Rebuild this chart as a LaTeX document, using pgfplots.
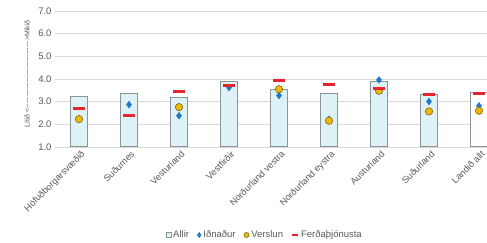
\documentclass[border=0pt]{standalone}
\usepackage{pgfplots}
\pgfplotsset{compat=1.18}
\usepackage{fontspec}
\setmainfont{Liberation Sans}
\definecolor{barfill}{HTML}{DDF2F7}
\definecolor{barline}{HTML}{8C9496}
\definecolor{diam}{HTML}{1F78C8}
\definecolor{circ}{HTML}{F2B705}
\definecolor{circline}{HTML}{7A6A1C}
\definecolor{redl}{HTML}{E3262E}
\definecolor{txt}{HTML}{595959}
\definecolor{gridc}{HTML}{D9D9D9}
\newcommand\h{-\kern0pt}
\begin{document}
\begin{tikzpicture}
\begin{axis}[
  name=ax,
  scale only axis,
  width=432pt, height=136pt,
  xmin=-0.48, xmax=8.16,
  ymin=1, ymax=7,
  ytick={1,2,...,7},
  xtick={0,...,8},
  xticklabels={Höfuðborgarsvæðið,Suðurnes,Vesturland,Vestfirðir,Norðurland vestra,Norðurland eystra,Austurland,Suðurland,Landið allt},
  xticklabel style={rotate=45, anchor=north east, font=\fontsize{9.2}{10}\selectfont, text=txt, inner sep=1pt, yshift=-2pt},
  yticklabel style={font=\fontsize{9.5}{10}\selectfont, text=txt, /pgf/number format/.cd, fixed, fixed zerofill, precision=1},
  /pgf/number format/assume math mode=true,
  major tick length=0pt,
  axis line style={draw=none},
  ymajorgrids,
  grid style={gridc, line width=0.6pt},
  ylabel={\fontsize{7}{8}\selectfont Lítið \textless\h\h\h\h\h\h\h\h\h\h\h\h\h\h\h\h\h\h\h\h\h\h\h\h\h\h\h\h\h\textgreater Mikið},
  ylabel style={at={(axis description cs:-0.0648,0.537)}, anchor=center, text=txt},
  legend style={at={(axis description cs:0.486,-0.647)}, anchor=center, draw=none, fill=none,
    font=\fontsize{9.5}{10}\selectfont, text=txt, legend columns=4,
    /tikz/every even column/.append style={column sep=6pt}},
  legend cell align=left,
]
\addplot[ybar, bar width=16.5pt, bar shift=0pt, fill=barfill, draw=barline, line width=1pt,
  legend image code/.code={\draw[fill=barfill, draw=barline, line width=0.5pt] (0pt,-2.3pt) rectangle (4.6pt,2.3pt);}]
  coordinates {(0,3.25) (1,3.34) (2,3.19) (3,3.90) (4,3.55) (5,3.35) (6,3.90) (7,3.30)};
\addlegendentry{Allir}
\addplot[ybar, bar width=16.5pt, bar shift=0pt, fill=white, draw=barline, line width=1pt, forget plot]
  coordinates {(8,3.40)};
\addplot[only marks, mark=diamond*, mark size=3.4pt, color=diam,
  legend image code/.code={\fill[diam] (0pt,0pt)--(2pt,2.6pt)--(4pt,0pt)--(2pt,-2.6pt)--cycle;}]
  coordinates {(0,2.25) (1,2.87) (2,2.38) (3,3.62) (4,3.27) (5,2.22) (6,3.96) (7,3.01) (8,2.82)};
\addlegendentry{Iðnaður}
\addplot[only marks, mark=*, mark size=3.7pt, mark options={fill=circ, draw=circline, line width=0.6pt},
  legend image code/.code={\draw[fill=circ, draw=circline, line width=0.5pt] (2.6pt,0pt) circle (2.6pt);}]
  coordinates {(0,2.23) (2,2.76) (4,3.55) (5,2.16) (6,3.48) (7,2.57) (8,2.60)};
\addlegendentry{Verslun}
\addplot[only marks, mark=-, mark size=6pt, mark options={draw=redl, line width=3pt},
  legend image code/.code={\draw[redl, line width=2pt] (0pt,0pt)--(6pt,0pt);}]
  coordinates {(0,2.72) (1,2.37) (2,3.47) (3,3.72) (4,3.94) (5,3.75) (6,3.60) (7,3.30) (8,3.38)};
\addlegendentry{Ferðaþjónusta}
\end{axis}
\pgfresetboundingbox
\path[use as bounding box] (ax.south west) ++(-55pt,-96pt) rectangle ++(487pt,243pt);
\end{tikzpicture}
\end{document}
